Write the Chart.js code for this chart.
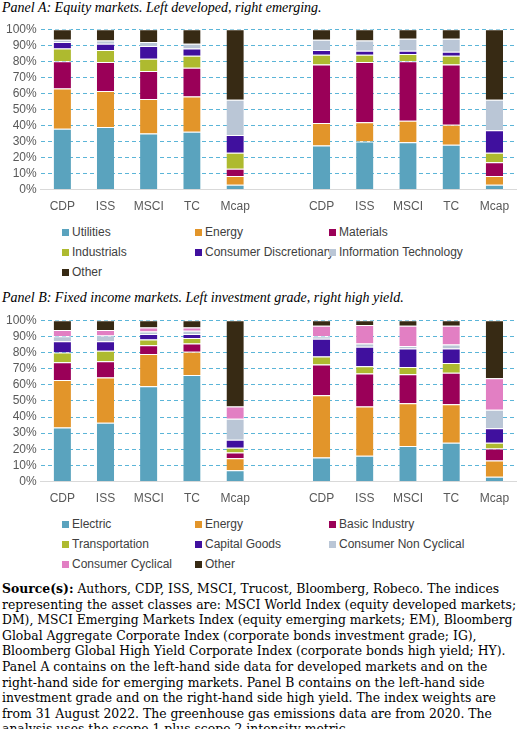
<!DOCTYPE html>
<html><head><meta charset="utf-8">
<script src="https://cdn.jsdelivr.net/npm/chart.js@4"></script>
<style>
  body { margin:0; width:520px; height:729px; background:#fff; font-family:"Liberation Serif", serif; position:relative; overflow:hidden; }
  .ptitle { position:absolute; left:2px; font-style:italic; font-size:14px; color:#000; }
  .cw { position:absolute; left:0; width:520px; }
  .legend { position:absolute; left:62px; width:460px; font-family:"Liberation Sans", Arial, sans-serif; font-size:12px; color:#404040; }
  .legend div { position:absolute; white-space:nowrap; }
  .legend span { display:inline-block; width:7px; height:7px; margin-right:3px; }
  .src { position:absolute; left:2px; top:581px; width:516px; font-family:"DejaVu Serif", serif; font-size:12.4px; line-height:15.6px; color:#000; }
</style></head>
<body>
<div class="ptitle" style="top:0px">Panel A: Equity markets. Left developed, right emerging.</div>
<div class="cw" style="top:18px;height:198px"><canvas id="cA"></canvas></div>
<div class="legend" id="lA" style="top:225px"></div>
<div class="ptitle" style="top:290px">Panel B: Fixed income markets. Left investment grade, right high yield.</div>
<div class="cw" style="top:309px;height:199px"><canvas id="cB"></canvas></div>
<div class="legend" id="lB" style="top:517px"></div>
<div class="src"><b>Source(s):</b> Authors, CDP, ISS, MSCI, Trucost, Bloomberg, Robeco. The indices representing the asset classes are: MSCI World Index (equity developed markets; DM), MSCI Emerging Markets Index (equity emerging markets; EM), Bloomberg Global Aggregate Corporate Index (corporate bonds investment grade; IG), Bloomberg Global High Yield Corporate Index (corporate bonds high yield; HY). Panel A contains on the left-hand side data for developed markets and on the right-hand side for emerging markets. Panel B contains on the left-hand side investment grade and on the right-hand side high yield. The index weights are from 31 August 2022. The greenhouse gas emissions data are from 2020. The analysis uses the scope 1 plus scope 2 intensity metric</div>
<script>
const categories = ["CDP","ISS","MSCI","TC","Mcap","","CDP","ISS","MSCI","TC","Mcap"];
const yTicks = [0,10,20,30,40,50,60,70,80,90,100];

// Panel A: equity sectors (segment shares, %)
const sectorsA = ["Utilities","Energy","Materials","Industrials","Consumer Discretionary","Information Technology","Other"];
const colorsA = ["#5AA3BE","#E2952A","#9A0058","#AEBA2F","#40109E","#BAC6D6","#372A14"];
const utilities   = [38, 39, 35, 36, 3, null, 27.5, 30, 29.5, 28, 3];
const energyA     = [25, 22.5, 21.5, 22, 5.5, null, 14, 12, 13.5, 12.5, 5.5];
const materials   = [17, 18, 17.5, 18, 4.5, null, 36.5, 37.5, 37, 37.5, 8.5];
const industrials = [8, 7.5, 7.5, 7.5, 10, null, 6, 4.5, 4.5, 5.5, 6];
const consDisc    = [4, 4, 8, 4.5, 11, null, 3, 2.5, 2, 2.5, 14];
const infoTech    = [1.5, 2, 2.5, 3, 22, null, 6.5, 6.5, 7.5, 8, 19];
const otherA      = [6.5, 7, 8, 9, 44, null, 6.5, 7, 6, 6, 44];
const seriesA = [utilities, energyA, materials, industrials, consDisc, infoTech, otherA];

// Panel B: bond sectors (segment shares, %)
const sectorsB = ["Electric","Energy","Basic Industry","Transportation","Capital Goods","Consumer Non Cyclical","Consumer Cyclical","Other"];
const colorsB = ["#5AA3BE","#E2952A","#9A0058","#AEBA2F","#40109E","#BAC6D6","#E27FC3","#372A14"];
const electric   = [33.5, 36.5, 59, 66, 7, null, 15, 16, 22, 24, 3];
const energyB    = [29.5, 28, 20, 14.5, 7.5, null, 38.5, 30.5, 26.5, 24, 10];
const basicInd   = [11, 10, 5.5, 5, 3.5, null, 19, 20.5, 18, 19.5, 7.5];
const transport  = [6, 6.5, 3.5, 3.5, 3, null, 5, 4.5, 4.5, 6, 3.5];
const capGoods   = [7, 6, 3.5, 2.5, 5, null, 11, 12, 11.5, 9, 9];
const consNonCyc = [3, 3.5, 1.5, 2, 13, null, 1.5, 2, 1.5, 2.5, 11.5];
const consCyc    = [4, 3.5, 2.5, 2, 7.5, null, 6.5, 11.5, 12.5, 11.5, 19.5];
const otherB     = [6, 6, 4.5, 4.5, 53.5, null, 3.5, 3, 3.5, 3.5, 36];
const seriesB = [electric, energyB, basicInd, transport, capGoods, consNonCyc, consCyc, otherB];

const tickFont = { family: "Liberation Sans, Arial, sans-serif", size: 12 };

function makeChart(id, names, colors, series) {
  new Chart(document.getElementById(id), {
    type: "bar",
    data: {
      labels: categories,
      datasets: series.map((d, i) => ({
        label: names[i], data: d, backgroundColor: colors[i],
        borderColor: "#fff", borderWidth: { top: 1 }, borderSkipped: false,
        barPercentage: 0.4, categoryPercentage: 1
      }))
    },
    options: {
      responsive: true, maintainAspectRatio: false, animation: false,
      layout: { padding: { left: 2, right: 4, top: 5, bottom: 0 } },
      plugins: { legend: { display: false }, tooltip: { enabled: false } },
      scales: {
        x: { stacked: true, grid: { display: false },
             border: { color: "#d9d9d9" },
             ticks: { color: "#595959", font: tickFont, maxRotation: 0, autoSkip: false, padding: 2 } },
        y: { stacked: true, min: 0, max: 100,
             afterBuildTicks: (ax) => { ax.ticks = yTicks.map(v => ({ value: v })); },
             grid: { color: "#5BB5D8", lineWidth: 1, drawTicks: false },
             border: { display: true, color: "rgba(0,0,0,0)", dash: [4, 3] },
             ticks: { color: "#595959", font: tickFont, padding: 4, autoSkip: false, callback: v => v + "%" } }
      }
    }
  });
}

function makeLegend(id, names, colors) {
  const box = document.getElementById(id);
  const xs = [0, 133, 267];
  names.forEach((n, i) => {
    const d = document.createElement("div");
    d.style.left = xs[i % 3] + "px";
    d.style.top = (Math.floor(i / 3) * 20) + "px";
    d.innerHTML = `<span style="background:${colors[i]}"></span>${n}`;
    box.appendChild(d);
  });
}

makeChart("cA", sectorsA, colorsA, seriesA);
makeChart("cB", sectorsB, colorsB, seriesB);
makeLegend("lA", sectorsA, colorsA);
makeLegend("lB", sectorsB, colorsB);
</script>
</body></html>
